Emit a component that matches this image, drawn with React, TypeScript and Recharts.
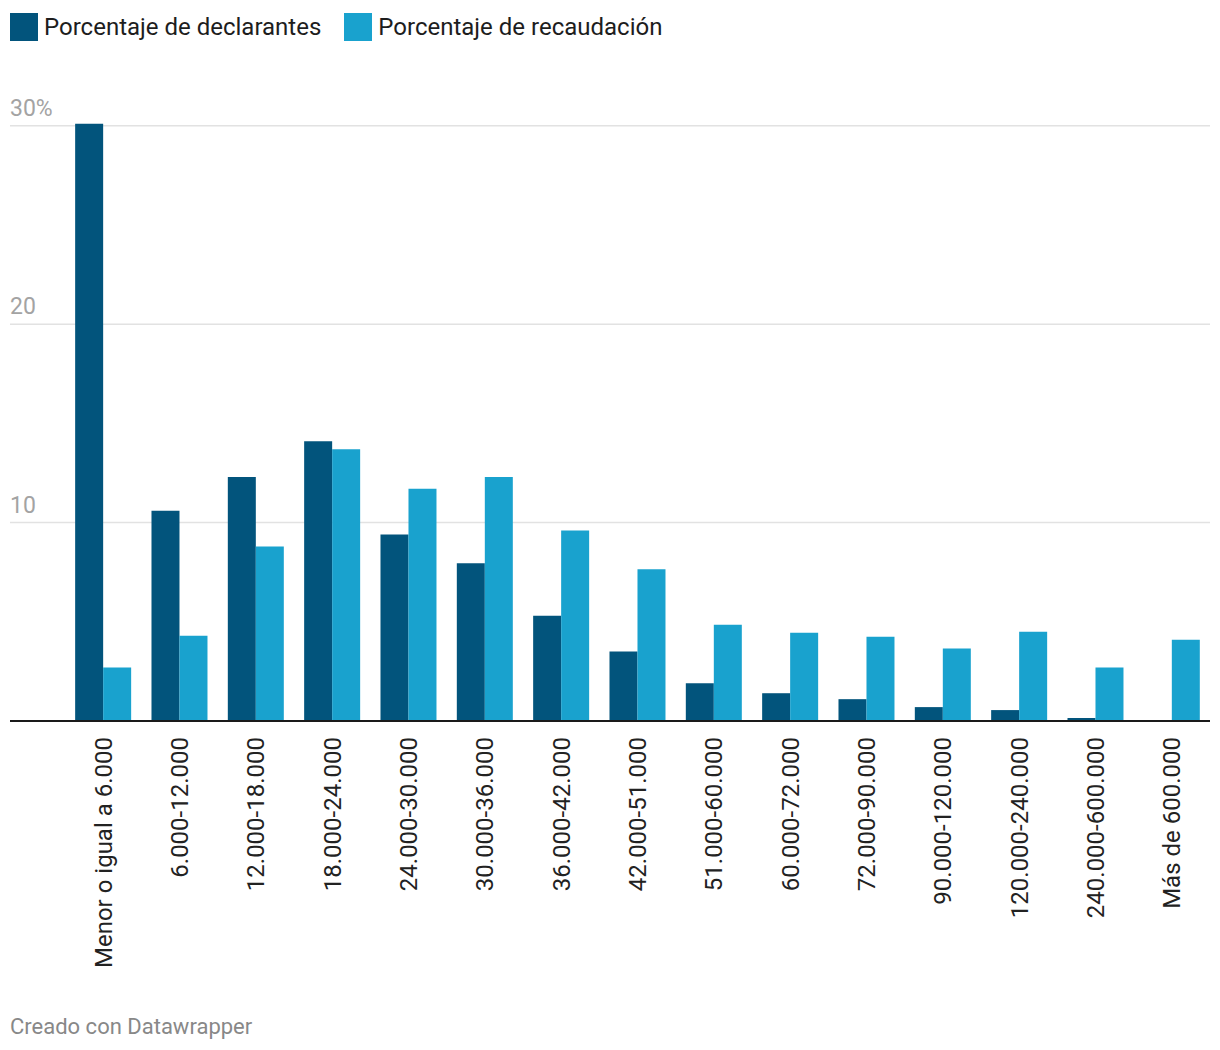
import React from "react";
import { BarChart, Bar, XAxis, YAxis, ReferenceLine, CartesianGrid } from "recharts";

const categories = [
  "Menor o igual a 6.000",
  "6.000-12.000",
  "12.000-18.000",
  "18.000-24.000",
  "24.000-30.000",
  "30.000-36.000",
  "36.000-42.000",
  "42.000-51.000",
  "51.000-60.000",
  "60.000-72.000",
  "72.000-90.000",
  "90.000-120.000",
  "120.000-240.000",
  "240.000-600.000",
  "Más de 600.000",
];
const declarantes = [30.1, 10.6, 12.3, 14.1, 9.4, 7.95, 5.3, 3.5, 1.9, 1.4, 1.1, 0.7, 0.55, 0.15, 0.02];
const recaudacion = [2.7, 4.3, 8.8, 13.7, 11.7, 12.3, 9.6, 7.65, 4.85, 4.45, 4.25, 3.65, 4.5, 2.7, 4.1];
const gridValues = [10, 20, 30];
const gridLabels = ["10", "20", "30%"];
const seriesNames = ["Porcentaje de declarantes", "Porcentaje de recaudación"];
const colors = ["#02547c", "#19a2ce"];

const data = categories.map((c, i) => ({
  name: c,
  declarantes: declarantes[i],
  recaudacion: recaudacion[i],
}));

const FONT = "Roboto, 'Noto Sans', sans-serif";

const XTick = (props: any) => {
  const { x, y, payload } = props;
  return (
    <text
      x={x}
      y={y}
      transform={`rotate(-90, ${x}, ${y})`}
      textAnchor="end"
      dy="0.35em"
      fontSize={24}
      fontFamily={FONT}
      fill="#222"
    >
      {payload.value}
    </text>
  );
};

const makeLabel = (text: string) => (props: any) => {
  const vb = props.viewBox || {};
  return (
    <text x={vb.x} y={vb.y - 10} textAnchor="start" fontSize={23} fontFamily={FONT} fill="#a3a3a3">
      {text}
    </text>
  );
};

export default function App() {
  return (
    <div style={{ position: "absolute", left: 0, top: 0, width: 1220, height: 1050, background: "#fff", fontFamily: FONT }}>
      <BarChart
        width={1220}
        height={1000}
        data={data}
        margin={{ top: 86, right: 10, bottom: 0, left: 10 }}
        barCategoryGap="13.3%"
        barGap={0}
      >
        <CartesianGrid vertical={false} horizontalValues={gridValues} stroke="#e2e2e2" strokeWidth={1.5} />
        <YAxis hide domain={[0, 32]} />
        {gridValues.map((v, i) => (
          <ReferenceLine key={v} y={v} stroke="none" strokeOpacity={0} label={makeLabel(gridLabels[i])} />
        ))}
        <XAxis
          dataKey="name"
          height={279}
          padding={{ left: 55, right: 0 }}
          axisLine={{ stroke: "#1a1a1a", strokeWidth: 2 }}
          tickLine={false}
          tickSize={0}
          tickMargin={16}
          interval={0}
          tick={<XTick />}
        />
        <Bar dataKey="declarantes" name={seriesNames[0]} fill={colors[0]} isAnimationActive={false} />
        <Bar dataKey="recaudacion" name={seriesNames[1]} fill={colors[1]} isAnimationActive={false} />
      </BarChart>
      <div style={{ position: "absolute", left: 10, top: 13, display: "flex", alignItems: "center" }}>
        {seriesNames.map((n, i) => (
          <div key={n} style={{ display: "flex", alignItems: "center", marginRight: i === 0 ? 23 : 0 }}>
            <div style={{ width: 28, height: 28, background: colors[i], marginRight: 6 }} />
            <span style={{ fontSize: 24, color: "#1d1d1d", lineHeight: "28px" }}>{n}</span>
          </div>
        ))}
      </div>
      <div style={{ position: "absolute", left: 10, top: 1013, fontSize: 22, color: "#888", lineHeight: "28px" }}>
        Creado con Datawrapper
      </div>
    </div>
  );
}
